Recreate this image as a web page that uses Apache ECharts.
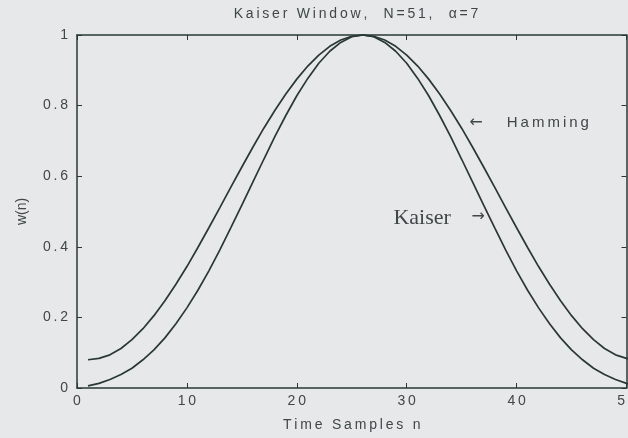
<!DOCTYPE html>
<html>
<head>
<meta charset="utf-8">
<title>Kaiser Window</title>
<script src="https://cdn.jsdelivr.net/npm/echarts@6/dist/echarts.min.js"></script>
<style>
  html, body { margin: 0; padding: 0; background: #e7e8ea; }
  #chart { width: 628px; height: 438px; }
</style>
</head>
<body>
<div id="chart"></div>
<script>
// Sample index n
const samples = [1, 2, 3, 4, 5, 6, 7, 8, 9, 10, 11, 12, 13, 14, 15, 16, 17, 18, 19, 20,
  21, 22, 23, 24, 25, 26, 27, 28, 29, 30, 31, 32, 33, 34, 35, 36, 37, 38, 39, 40,
  41, 42, 43, 44, 45, 46, 47, 48, 49, 50, 51];

// Kaiser window, N = 51, alpha = 7
const kaiser = [0.006, 0.013, 0.024, 0.038, 0.056, 0.080, 0.108, 0.142, 0.182, 0.227,
  0.277, 0.332, 0.391, 0.454, 0.518, 0.583, 0.648, 0.712, 0.772, 0.828,
  0.877, 0.920, 0.954, 0.979, 0.995, 1.000, 0.995, 0.979, 0.954, 0.920,
  0.877, 0.828, 0.772, 0.712, 0.648, 0.583, 0.518, 0.454, 0.391, 0.332,
  0.277, 0.227, 0.182, 0.142, 0.108, 0.080, 0.056, 0.038, 0.024, 0.013, 0.006];

// Hamming window, N = 51
const hamming = [0.080, 0.084, 0.094, 0.112, 0.137, 0.168, 0.205, 0.247, 0.294, 0.344,
  0.398, 0.454, 0.511, 0.569, 0.626, 0.682, 0.736, 0.786, 0.833, 0.875,
  0.912, 0.943, 0.968, 0.986, 0.996, 1.000, 0.996, 0.986, 0.968, 0.943,
  0.912, 0.875, 0.833, 0.786, 0.736, 0.682, 0.626, 0.569, 0.511, 0.454,
  0.398, 0.344, 0.294, 0.247, 0.205, 0.168, 0.137, 0.112, 0.094, 0.084, 0.080];

// Axis ranges and texts
const xRange = { min: 0, max: 50, interval: 10 };
const yRange = { min: 0, max: 1, interval: 0.2 };
const titleText = 'Kaiser Window,  N=51,  α=7';
const xName = 'Time Samples n';
const yName = 'w(n)';

// Annotation anchors in data space: [n, w]
const hammingArrowAt = [36.3, 0.75];
const hammingTextAt = [39.1, 0.75];
const kaiserTextAt = [31.4, 0.482];
const kaiserArrowAt = [36.5, 0.485];

const INK = '#2a3834';
const TEXT = '#3f4747';
const SANS = '"Liberation Sans", Arial, sans-serif';
const SERIF = '"Liberation Serif", "Times New Roman", serif';
const ARROW_FONT = '"DejaVu Sans", sans-serif';

// Wide letter spacing via thin spaces between glyphs
function spaced(s) {
  return String(s).split('').join('\u2009');
}

function pairs(ys) {
  return samples.map((n, i) => [n, ys[i]]);
}

function note(coord, text, align, font, size) {
  return {
    coord: coord,
    symbol: 'circle',
    symbolSize: 0,
    itemStyle: { color: 'transparent' },
    label: {
      show: true,
      position: 'inside',
      align: align,
      verticalAlign: 'middle',
      formatter: text,
      color: TEXT,
      fontFamily: font,
      fontSize: size
    }
  };
}

const chart = echarts.init(document.getElementById('chart'), null, { renderer: 'canvas' });

const tickStyle = { show: true, inside: true, length: 5, lineStyle: { color: INK, width: 1 } };
const lineStyle = { show: true, onZero: false, lineStyle: { color: INK, width: 1.5 } };

chart.setOption({
  backgroundColor: '#e7e8ea',
  animation: false,
  title: {
    text: spaced(titleText),
    left: 356,
    top: 7,
    padding: 0,
    textAlign: 'center',
    textStyle: { fontFamily: SANS, fontSize: 14, fontWeight: 'normal', color: TEXT }
  },
  grid: { left: 77, right: 1.5, top: 35, bottom: 50, containLabel: false, outerBoundsMode: 'none' },
  xAxis: [
    {
      type: 'value', position: 'bottom',
      min: xRange.min, max: xRange.max, interval: xRange.interval,
      name: spaced(xName), nameLocation: 'middle', nameGap: 30,
      nameTextStyle: { fontFamily: SANS, fontSize: 14, color: TEXT },
      axisLine: lineStyle, axisTick: tickStyle,
      axisLabel: { margin: 6, fontFamily: SANS, fontSize: 14, color: TEXT, formatter: v => spaced(v) },
      splitLine: { show: false }
    },
    {
      type: 'value', position: 'top',
      min: xRange.min, max: xRange.max, interval: xRange.interval,
      axisLine: lineStyle, axisTick: tickStyle,
      axisLabel: { show: false }, splitLine: { show: false }
    }
  ],
  yAxis: [
    {
      type: 'value', position: 'left',
      min: yRange.min, max: yRange.max, interval: yRange.interval,
      name: yName, nameLocation: 'middle', nameGap: 48, nameRotate: 90,
      nameTextStyle: { fontFamily: SANS, fontSize: 14, color: TEXT },
      axisLine: lineStyle, axisTick: tickStyle,
      axisLabel: { margin: 9, fontFamily: SANS, fontSize: 14, color: TEXT, formatter: v => spaced(+v.toFixed(1)) },
      splitLine: { show: false }
    },
    {
      type: 'value', position: 'right',
      min: yRange.min, max: yRange.max, interval: yRange.interval,
      axisLine: lineStyle, axisTick: tickStyle,
      axisLabel: { show: false }, splitLine: { show: false }
    }
  ],
  series: [
    {
      name: 'Hamming', type: 'line', xAxisIndex: 0, yAxisIndex: 0,
      data: pairs(hamming), showSymbol: false, symbol: 'none', clip: false,
      lineStyle: { color: INK, width: 1.7 },
      markPoint: {
        silent: true,
        data: [
          note(hammingArrowAt, '←', 'center', ARROW_FONT, 16),
          note(hammingTextAt, spaced('Hamming'), 'left', SANS, 15)
        ]
      }
    },
    {
      name: 'Kaiser', type: 'line', xAxisIndex: 0, yAxisIndex: 0,
      data: pairs(kaiser), showSymbol: false, symbol: 'none', clip: false,
      lineStyle: { color: INK, width: 1.7 },
      markPoint: {
        silent: true,
        data: [
          note(kaiserTextAt, 'Kaiser', 'center', SERIF, 22),
          note(kaiserArrowAt, '→', 'center', ARROW_FONT, 16)
        ]
      }
    }
  ]
});
</script>
</body>
</html>
